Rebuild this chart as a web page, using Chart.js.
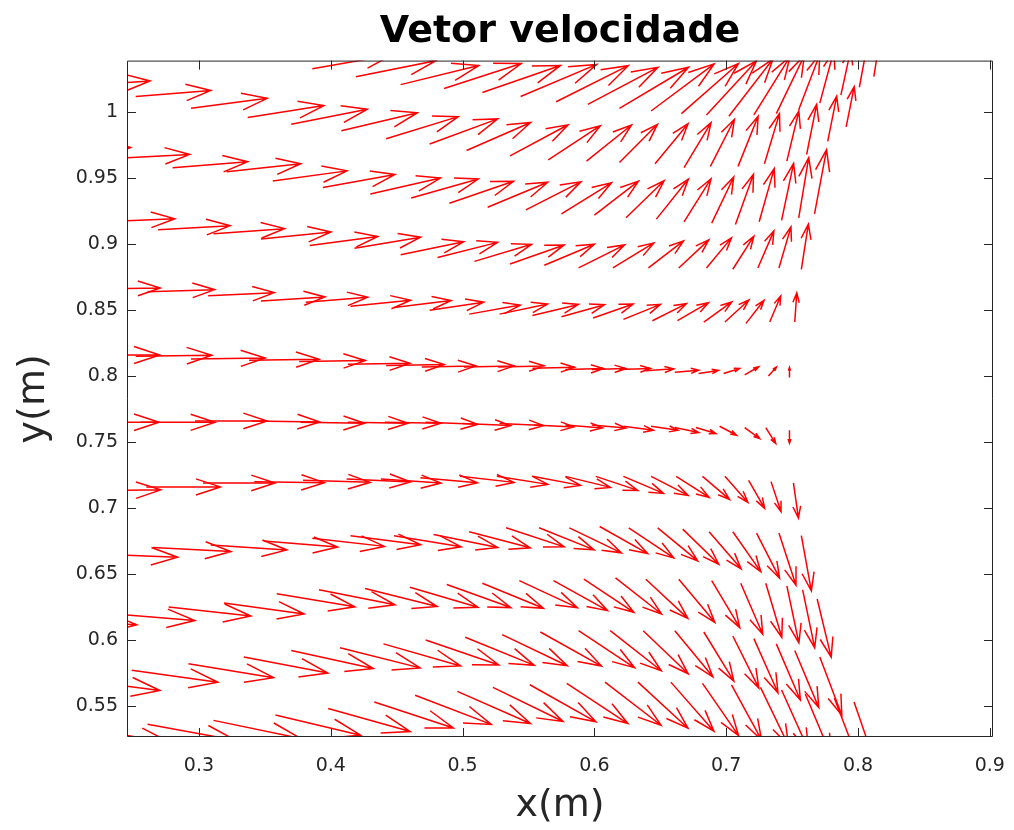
<!DOCTYPE html>
<html>
<head>
<meta charset="utf-8">
<script src="https://cdn.jsdelivr.net/npm/chart.js@4.4.1/dist/chart.umd.min.js"></script>
<style>
  html, body { margin: 0; padding: 0; background: #ffffff; }
  #wrap { width: 1014px; height: 830px; }
</style>
</head>
<body>
<div id="wrap"><canvas id="c" width="1014" height="830"></canvas></div>
<script>
// Velocity field sampled on the mesh: one sub-array per mesh row.
// nodeX / nodeY: node position (m); velU / velV: velocity components.
const nodeX = [
  [0.386,0.419,0.453,0.486,0.515,0.544,0.571,0.595,0.619,0.643,0.666,0.685,0.702,0.721,0.738,0.755,0.771,0.787,0.801,0.812],
  [0.206,0.252,0.294,0.337,0.370,0.408,0.442,0.475,0.503,0.536,0.565,0.594,0.619,0.646,0.668,0.688,0.709,0.729,0.746,0.761,0.777,0.791],
  [0.191,0.236,0.280,0.321,0.356,0.394,0.430,0.461,0.490,0.519,0.548,0.575,0.600,0.624,0.647,0.668,0.689,0.707,0.725,0.742,0.755,0.767],
  [0.182,0.227,0.269,0.311,0.347,0.384,0.418,0.453,0.481,0.509,0.536,0.562,0.588,0.614,0.641,0.664,0.685,0.705,0.724,0.740,0.757],
  [0.177,0.219,0.261,0.307,0.347,0.381,0.415,0.448,0.475,0.505,0.528,0.553,0.575,0.599,0.622,0.644,0.663,0.683,0.699,0.715,0.733,0.752],
  [0.170,0.211,0.252,0.294,0.338,0.376,0.413,0.442,0.469,0.501,0.527,0.553,0.578,0.598,0.619,0.639,0.661,0.679,0.698,0.714,0.732,0.748],
  [0.171,0.212,0.256,0.297,0.340,0.377,0.413,0.441,0.472,0.500,0.528,0.554,0.578,0.598,0.622,0.643,0.661,0.677,0.695,0.714,0.730,0.748],
  [0.172,0.214,0.260,0.303,0.342,0.379,0.412,0.438,0.468,0.498,0.526,0.553,0.578,0.601,0.622,0.643,0.662,0.682,0.699,0.717,0.734,0.751],
  [0.179,0.223,0.265,0.309,0.349,0.386,0.415,0.448,0.478,0.505,0.533,0.558,0.581,0.604,0.626,0.648,0.667,0.687,0.705,0.723,0.740,0.757],
  [0.189,0.233,0.277,0.319,0.359,0.391,0.426,0.460,0.488,0.515,0.543,0.569,0.592,0.616,0.639,0.664,0.689,0.711,0.730,0.746,0.758,0.769],
  [0.160,0.205,0.249,0.292,0.334,0.370,0.407,0.440,0.472,0.502,0.530,0.559,0.588,0.612,0.637,0.661,0.683,0.705,0.721,0.738,0.752,0.771],
  [0.211,0.261,0.311,0.358,0.398,0.433,0.464,0.496,0.523,0.551,0.579,0.608,0.633,0.658,0.682,0.704,0.726,0.742,0.760,0.782,0.797]
];
const nodeY = [
  [1.033,1.027,1.021,1.018,1.015,1.012,1.008,1.006,1.003,1.001,0.999,0.998,0.997,0.998,0.999,1.002,1.007,1.013,1.019,1.027],
  [1.020,1.012,1.003,0.996,0.991,0.986,0.980,0.976,0.971,0.967,0.964,0.963,0.962,0.961,0.958,0.959,0.959,0.961,0.963,0.968,0.978,0.989],
  [0.971,0.965,0.958,0.955,0.948,0.943,0.938,0.935,0.931,0.928,0.926,0.923,0.922,0.920,0.919,0.917,0.916,0.915,0.917,0.918,0.920,0.923],
  [0.923,0.917,0.911,0.908,0.904,0.899,0.897,0.892,0.890,0.887,0.885,0.884,0.882,0.882,0.882,0.882,0.882,0.881,0.882,0.882,0.881],
  [0.868,0.866,0.864,0.861,0.857,0.856,0.853,0.852,0.850,0.847,0.847,0.846,0.845,0.844,0.843,0.842,0.842,0.841,0.841,0.840,0.841,0.841],
  [0.816,0.816,0.815,0.813,0.812,0.811,0.809,0.808,0.807,0.807,0.807,0.806,0.805,0.805,0.805,0.804,0.803,0.802,0.802,0.801,0.800,0.799],
  [0.766,0.765,0.765,0.766,0.766,0.765,0.765,0.765,0.765,0.764,0.764,0.763,0.763,0.763,0.762,0.762,0.761,0.761,0.762,0.761,0.761,0.759],
  [0.711,0.713,0.716,0.719,0.720,0.721,0.722,0.722,0.723,0.724,0.724,0.724,0.724,0.724,0.724,0.724,0.724,0.724,0.724,0.721,0.720,0.719],
  [0.662,0.665,0.670,0.672,0.675,0.677,0.679,0.679,0.680,0.682,0.685,0.685,0.685,0.686,0.685,0.685,0.684,0.682,0.682,0.681,0.681,0.679],
  [0.616,0.620,0.625,0.628,0.635,0.638,0.639,0.640,0.642,0.643,0.645,0.645,0.646,0.647,0.646,0.646,0.645,0.643,0.643,0.641,0.638,0.631],
  [0.565,0.570,0.577,0.582,0.587,0.592,0.594,0.597,0.600,0.602,0.604,0.606,0.607,0.607,0.607,0.607,0.606,0.603,0.601,0.597,0.592,0.587],
  [0.533,0.536,0.539,0.543,0.548,0.553,0.558,0.561,0.564,0.566,0.567,0.568,0.568,0.568,0.567,0.566,0.564,0.562,0.559,0.556,0.553]
];
const velU = [
  [0.80,0.80,0.78,0.77,0.78,0.76,0.72,0.70,0.69,0.63,0.57,0.50,0.44,0.36,0.28,0.21,0.14,0.10,0.08,0.06],
  [0.75,0.75,0.76,0.76,0.76,0.76,0.72,0.68,0.64,0.58,0.52,0.45,0.38,0.33,0.27,0.24,0.20,0.15,0.12,0.10,0.09,0.08],
  [0.75,0.75,0.75,0.74,0.74,0.72,0.70,0.67,0.64,0.60,0.55,0.50,0.44,0.38,0.32,0.27,0.22,0.18,0.15,0.12,0.10,0.12],
  [0.72,0.72,0.72,0.71,0.70,0.68,0.66,0.63,0.60,0.57,0.54,0.50,0.46,0.41,0.35,0.30,0.25,0.21,0.16,0.12,0.07],
  [0.68,0.68,0.67,0.66,0.64,0.62,0.60,0.57,0.54,0.51,0.48,0.46,0.43,0.40,0.37,0.34,0.31,0.28,0.24,0.18,0.11,0.02],
  [0.78,0.78,0.76,0.74,0.70,0.66,0.62,0.58,0.54,0.50,0.46,0.42,0.38,0.34,0.31,0.28,0.24,0.20,0.16,0.14,0.08,0.00],
  [0.76,0.76,0.74,0.72,0.68,0.64,0.60,0.56,0.52,0.48,0.44,0.40,0.37,0.34,0.30,0.27,0.24,0.20,0.17,0.15,0.10,0.00],
  [0.75,0.75,0.74,0.72,0.70,0.67,0.64,0.60,0.57,0.54,0.51,0.48,0.45,0.42,0.40,0.37,0.33,0.27,0.23,0.16,0.10,0.05],
  [0.80,0.80,0.78,0.76,0.74,0.72,0.70,0.67,0.64,0.61,0.58,0.55,0.52,0.48,0.45,0.40,0.36,0.32,0.28,0.23,0.17,0.10],
  [0.84,0.84,0.82,0.80,0.78,0.76,0.72,0.68,0.64,0.61,0.58,0.54,0.50,0.46,0.42,0.36,0.28,0.22,0.16,0.12,0.12,0.14],
  [0.86,0.86,0.86,0.85,0.84,0.82,0.80,0.77,0.73,0.69,0.65,0.61,0.56,0.51,0.45,0.38,0.30,0.26,0.24,0.24,0.24,0.22],
  [0.88,0.88,0.87,0.85,0.82,0.79,0.76,0.73,0.70,0.66,0.61,0.56,0.50,0.43,0.36,0.30,0.28,0.27,0.26,0.24,0.22]
];
const velV = [
  [0.14,0.16,0.19,0.25,0.27,0.32,0.36,0.37,0.41,0.47,0.50,0.54,0.57,0.58,0.58,0.55,0.52,0.46,0.43,0.38],
  [0.05,0.06,0.10,0.12,0.15,0.18,0.22,0.25,0.28,0.31,0.34,0.36,0.38,0.40,0.45,0.47,0.50,0.50,0.50,0.50,0.45,0.40],
  [0.03,0.04,0.06,0.08,0.10,0.13,0.16,0.19,0.22,0.25,0.28,0.31,0.34,0.37,0.40,0.43,0.46,0.50,0.53,0.57,0.60,0.64],
  [0.02,0.03,0.04,0.05,0.07,0.09,0.11,0.13,0.15,0.17,0.19,0.21,0.23,0.25,0.27,0.28,0.30,0.33,0.37,0.41,0.45],
  [0.01,0.01,0.02,0.03,0.04,0.05,0.06,0.07,0.08,0.09,0.10,0.11,0.12,0.14,0.15,0.17,0.18,0.20,0.22,0.23,0.26,0.29],
  [0.00,0.00,0.01,0.01,0.01,0.01,0.01,0.01,0.01,0.01,0.01,0.01,0.01,0.01,0.01,0.02,0.02,0.03,0.05,0.08,0.09,0.10],
  [0.00,0.00,0.00,0.00,-0.01,-0.01,-0.01,-0.01,-0.02,-0.02,-0.02,-0.02,-0.03,-0.03,-0.04,-0.04,-0.05,-0.06,-0.09,-0.11,-0.16,-0.13],
  [0.01,0.01,0.00,0.00,-0.01,-0.02,-0.03,-0.04,-0.05,-0.06,-0.08,-0.09,-0.11,-0.14,-0.17,-0.19,-0.21,-0.23,-0.26,-0.28,-0.30,-0.35],
  [-0.02,-0.03,-0.04,-0.05,-0.06,-0.08,-0.09,-0.11,-0.13,-0.16,-0.19,-0.22,-0.25,-0.27,-0.30,-0.33,-0.35,-0.37,-0.40,-0.45,-0.52,-0.55],
  [-0.06,-0.07,-0.09,-0.11,-0.13,-0.15,-0.18,-0.20,-0.23,-0.25,-0.27,-0.30,-0.33,-0.36,-0.39,-0.43,-0.47,-0.51,-0.54,-0.57,-0.58,-0.58],
  [-0.10,-0.11,-0.12,-0.14,-0.16,-0.18,-0.20,-0.22,-0.25,-0.28,-0.31,-0.34,-0.37,-0.40,-0.43,-0.46,-0.49,-0.52,-0.54,-0.56,-0.57,-0.58],
  [-0.14,-0.16,-0.18,-0.20,-0.23,-0.26,-0.29,-0.32,-0.34,-0.37,-0.40,-0.43,-0.46,-0.49,-0.52,-0.55,-0.58,-0.60,-0.62,-0.63,-0.64]
];

// Axis ticks
const xTicks = [0.3, 0.4, 0.5, 0.6, 0.7, 0.8, 0.9];
const yTicks = [0.55, 0.6, 0.65, 0.7, 0.75, 0.8, 0.85, 0.9, 0.95, 1];

// Axis limits (m)
const X_MIN = 0.2454, X_MAX = 0.9024;
const Y_MIN = 0.5264, Y_MAX = 1.0392;

// Arrow drawing: length in metres per unit of velocity, head proportions
const ARROW_SCALE = 0.076;
const HEAD_ALPHA = 0.33;
const HEAD_BETA = 0.33;
const ARROW_COLOR = '#ff0000';
const AXIS_COLOR = '#262626';
const FONT = 'DejaVu Sans';

// Draws the quiver arrows through the chart scales, clipped to the plot box
const quiverPlugin = {
  id: 'quiver',
  afterDatasetsDraw(chart) {
    const { ctx, chartArea: a, scales: { x: xs, y: ys } } = chart;
    ctx.save();
    ctx.beginPath();
    ctx.rect(a.left, a.top, a.right - a.left, a.bottom - a.top);
    ctx.clip();
    ctx.strokeStyle = ARROW_COLOR;
    ctx.lineWidth = 1.5;
    for (let r = 0; r < nodeX.length; r++) {
      for (let i = 0; i < nodeX[r].length; i++) {
        const x0 = nodeX[r][i], y0 = nodeY[r][i];
        const x1 = x0 + ARROW_SCALE * velU[r][i];
        const y1 = y0 + ARROW_SCALE * velV[r][i];
        const p0x = xs.getPixelForValue(x0), p0y = ys.getPixelForValue(y0);
        const p1x = xs.getPixelForValue(x1), p1y = ys.getPixelForValue(y1);
        const dx = p1x - p0x, dy = p1y - p0y;
        ctx.beginPath();
        ctx.moveTo(p0x, p0y);
        ctx.lineTo(p1x, p1y);
        ctx.moveTo(p1x - HEAD_ALPHA * (dx + HEAD_BETA * dy), p1y - HEAD_ALPHA * (dy - HEAD_BETA * dx));
        ctx.lineTo(p1x, p1y);
        ctx.lineTo(p1x - HEAD_ALPHA * (dx - HEAD_BETA * dy), p1y - HEAD_ALPHA * (dy + HEAD_BETA * dx));
        ctx.stroke();
      }
    }
    ctx.restore();
  }
};

// Box around the axes with inward tick marks on all four sides
const boxPlugin = {
  id: 'box',
  afterDraw(chart) {
    const { ctx, chartArea: a, scales: { x: xs, y: ys } } = chart;
    const len = 9;
    ctx.save();
    ctx.strokeStyle = AXIS_COLOR;
    ctx.lineWidth = 1;
    ctx.beginPath();
    ctx.rect(a.left + 0.5, a.top + 0.5, a.right - a.left - 1, a.bottom - a.top - 1);
    xTicks.forEach(v => {
      const px = Math.round(xs.getPixelForValue(v)) + 0.5;
      ctx.moveTo(px, a.bottom); ctx.lineTo(px, a.bottom - len);
      ctx.moveTo(px, a.top); ctx.lineTo(px, a.top + len);
    });
    yTicks.forEach(v => {
      const py = Math.round(ys.getPixelForValue(v)) + 0.5;
      ctx.moveTo(a.left, py); ctx.lineTo(a.left + len, py);
      ctx.moveTo(a.right, py); ctx.lineTo(a.right - len, py);
    });
    ctx.stroke();
    ctx.restore();
  }
};

new Chart(document.getElementById('c'), {
  type: 'scatter',
  data: { datasets: [{ data: [], pointRadius: 0 }] },
  options: {
    responsive: false,
    animation: false,
    devicePixelRatio: 1,
    layout: { padding: { top: 0, right: 21, bottom: 0, left: 0 } },
    plugins: {
      legend: { display: false },
      tooltip: { enabled: false },
      title: {
        display: true,
        fullSize: false,
        text: 'Vetor velocidade',
        color: '#000000',
        font: { family: FONT, size: 38, weight: 'bold' },
        padding: { top: 9, bottom: 6 }
      }
    },
    scales: {
      x: {
        type: 'linear',
        min: X_MIN, max: X_MAX,
        afterBuildTicks: s => { s.ticks = xTicks.map(v => ({ value: v })); },
        afterFit: s => { s.height = 93; s.paddingLeft = 0; s.paddingRight = 0; },
        grid: { display: false, drawTicks: false },
        border: { display: false },
        ticks: {
          color: AXIS_COLOR, padding: 18, maxRotation: 0, autoSkip: false,
          font: { family: FONT, size: 19 },
          callback: v => String(v)
        },
        title: {
          display: true, text: 'x(m)', color: AXIS_COLOR,
          font: { family: FONT, size: 38 },
          padding: { top: 0, bottom: 1 }
        }
      },
      y: {
        type: 'linear',
        min: Y_MIN, max: Y_MAX,
        afterBuildTicks: s => { s.ticks = yTicks.map(v => ({ value: v })); },
        afterFit: s => { s.width = 127; s.paddingTop = 0; s.paddingBottom = 0; },
        grid: { display: false, drawTicks: false },
        border: { display: false },
        ticks: {
          color: AXIS_COLOR, padding: 9, autoSkip: false,
          font: { family: FONT, size: 19 },
          callback: v => String(v)
        },
        title: {
          display: true, text: 'y(m)', color: AXIS_COLOR,
          font: { family: FONT, size: 38 },
          padding: { top: 11, bottom: 0 }
        }
      }
    }
  },
  plugins: [quiverPlugin, boxPlugin]
});
</script>
</body>
</html>
